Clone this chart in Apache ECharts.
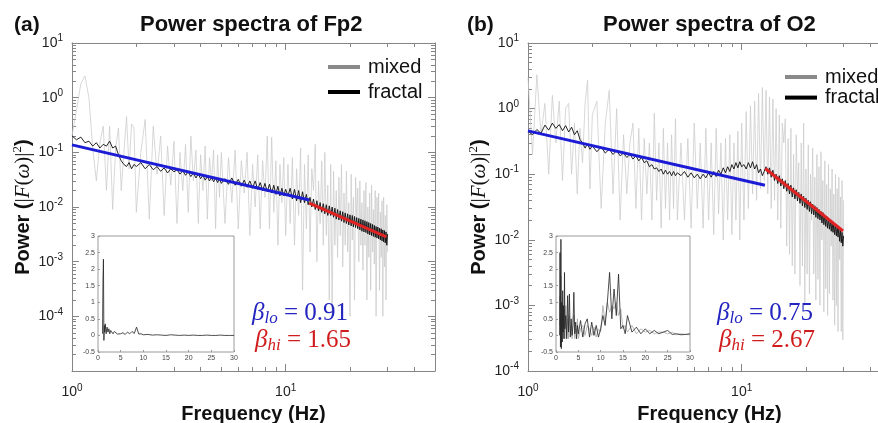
<!DOCTYPE html>
<html><head><meta charset="utf-8">
<script src="https://cdn.jsdelivr.net/npm/echarts@6/dist/echarts.min.js"></script>
<style>html,body{margin:0;padding:0;background:#fff}#c{width:878px;height:423px}</style>
</head><body><div id="c"></div>
<script>
// ---------------- data ----------------
const FREQ = [
 1.00,1.05,1.10,1.15,1.20,1.25,1.30,1.35,1.40,1.45,1.50,1.55,1.60,1.65,1.70,1.75,1.80,1.85,1.90,1.95,2.00,
 2.1,2.2,2.3,2.4,2.5,2.6,2.7,2.8,2.9,3.0,3.1,3.2,3.3,3.4,3.5,3.6,3.7,3.8,3.9,4.0,4.1,4.2,4.3,4.4,4.5,4.6,4.7,4.8,4.9,5.0,
 5.2,5.4,5.6,5.8,6.0,6.2,6.4,6.6,6.8,7.0,7.2,7.4,7.6,7.8,8.0,8.2,8.4,8.6,8.8,9.0,9.2,9.4,9.6,9.8,10.0,
 10.25,10.5,10.75,11,11.25,11.5,11.75,12,12.25,12.5,12.75,13,13.25,13.5,13.75,14,14.25,14.5,14.75,15,
 15.25,15.5,15.75,16,16.25,16.5,16.75,17,17.25,17.5,17.75,18,18.25,18.5,18.75,19,19.25,19.5,19.75,20,
 20.25,20.5,20.75,21,21.25,21.5,21.75,22,22.25,22.5,22.75,23,23.25,23.5,23.75,24,24.25,24.5,24.75,25,
 25.25,25.5,25.75,26,26.25,26.5,26.75,27,27.25,27.5,27.75,28,28.25,28.5,28.75,29,29.25,29.5,29.75,30
];
const FP2_MIXED = [
 0.2,0.6,1.8,2.5,1.0,0.12,0.03,0.15,0.3,0.02,0.3,0.009,0.12,0.28,0.02,0.1,0.45,0.05,0.33,0.28,0.008,
 0.1,0.4,0.006,0.3,0.04,0.2,0.007,0.13,0.025,0.16,0.005,0.1,0.02,0.14,0.008,0.2,0.03,0.11,0.005,0.09,0.02,0.13,0.006,0.08,0.03,0.11,0.004,0.09,0.015,0.1,
 0.005,0.08,0.012,0.11,0.004,0.07,0.018,0.1,0.003,0.06,0.01,0.09,0.004,0.07,0.015,0.2,0.004,0.19,0.008,0.07,0.002,0.06,0.012,0.08,0.003,
 0.06,0.005,0.08,0.002,0.05,0.007,0.12,0.0003,0.06,0.004,0.09,0.0015,0.05,0.02,0.14,0.001,0.03,0.005,0.07,0.002,
 0.1,0.003,0.025,0.0002,0.06,0.0001,0.045,0.002,0.02,0.0012,0.035,0.003,0.06,0.0008,0.018,0.002,0.045,0.0015,0.012,0.0001,
 0.04,0.0025,0.015,0.0002,0.035,0.006,0.022,0.001,0.03,0.002,0.012,0.0007,0.02,0.002,0.028,0.0002,0.01,0.0012,0.018,0.0003,
 0.025,0.0015,0.009,0.0009,0.02,0.0001,0.015,0.004,0.018,0.0003,0.008,0.0012,0.013,0.0001,0.015,0.0008,0.007,0.0002,0.011,0.0015
];
const FP2_FRACTAL = [
 0.2,0.17,0.19,0.15,0.16,0.13,0.15,0.12,0.14,0.13,0.16,0.12,0.13,0.09,0.07,0.06,0.055,0.065,0.05,0.06,0.055,
 0.065,0.05,0.06,0.048,0.055,0.045,0.052,0.042,0.05,0.044,0.048,0.04,0.046,0.038,0.044,0.036,0.042,0.034,0.04,0.033,0.038,0.031,0.036,0.03,0.035,0.029,0.034,0.028,0.033,0.027,
 0.033,0.026,0.034,0.025,0.032,0.024,0.031,0.023,0.03,0.022,0.03,0.021,0.028,0.02,0.027,0.019,0.026,0.018,0.025,0.017,0.024,0.016,0.022,0.016,0.021,
 0.016,0.022,0.014,0.021,0.013,0.02,0.012,0.019,0.012,0.017,0.011,0.015,0.01,0.014,0.009,0.013,0.0085,0.012,0.008,0.0115,
 0.0075,0.011,0.007,0.0105,0.007,0.01,0.0065,0.0095,0.006,0.009,0.0058,0.0085,0.0055,0.0082,0.0052,0.0078,0.005,0.0075,0.0047,0.0072,
 0.0045,0.007,0.0043,0.0067,0.0042,0.0064,0.004,0.0062,0.0038,0.006,0.0036,0.0058,0.0035,0.0056,0.0034,0.0054,0.0032,0.0052,0.0031,0.005,
 0.003,0.0048,0.0029,0.0046,0.0028,0.0044,0.0027,0.0043,0.0026,0.0041,0.0025,0.004,0.0024,0.0038,0.0023,0.0037,0.0022,0.0035,0.002,0.0032
];
const O2_MIXED = [
 3.0,0.2,3.3,0.4,1.2,0.1,1.6,0.3,1.3,0.08,1.0,1.2,0.1,0.6,0.05,0.5,0.15,1.2,2.7,0.06,0.8,
 1.3,0.03,0.6,1.9,0.05,1.0,0.02,0.4,0.05,0.3,0.6,0.03,0.5,0.02,0.35,0.05,0.3,0.02,0.85,0.04,0.3,0.015,0.5,0.03,0.3,0.02,0.4,0.03,0.7,0.02,
 0.3,0.02,0.35,0.015,0.6,0.03,0.3,0.015,0.5,0.02,0.3,0.012,0.5,0.025,0.3,0.01,0.35,0.02,0.4,0.012,0.3,0.02,0.45,0.01,0.6,
 0.02,0.9,0.03,1.1,0.05,1.3,0.04,1.7,0.06,2.1,0.08,1.9,0.05,1.5,0.03,1.4,0.04,1.0,0.02,0.8,
 0.015,0.6,0.3,0.7,0.008,0.35,0.006,0.5,0.004,0.2,0.003,0.4,0.05,0.15,0.002,0.3,0.004,0.6,0.001,0.12,
 0.003,0.28,0.0015,0.1,0.02,0.25,0.003,0.09,0.0012,0.2,0.0025,0.13,0.001,0.22,0.01,0.08,0.0008,0.16,0.0018,0.07,
 0.0007,0.14,0.0015,0.06,0.008,0.12,0.0012,0.05,0.0005,0.1,0.001,0.06,0.0004,0.09,0.005,0.045,0.0004,0.08,0.0003,0.04
];
const O2_FRACTAL = [
 0.45,0.4,0.48,0.42,0.56,0.47,0.6,0.5,0.57,0.46,0.55,0.44,0.52,0.4,0.46,0.34,0.3,0.25,0.29,0.24,0.27,
 0.22,0.26,0.21,0.24,0.2,0.23,0.19,0.21,0.18,0.2,0.17,0.19,0.16,0.18,0.15,0.16,0.13,0.14,0.12,0.125,0.11,0.12,0.1,0.115,0.1,0.11,0.095,0.11,0.095,0.105,
 0.095,0.11,0.09,0.105,0.088,0.1,0.085,0.1,0.088,0.105,0.09,0.11,0.092,0.115,0.1,0.125,0.105,0.13,0.11,0.14,0.12,0.15,0.125,0.155,0.13,
 0.14,0.12,0.15,0.125,0.155,0.12,0.14,0.105,0.12,0.095,0.11,0.13,0.1,0.125,0.09,0.115,0.08,0.1,0.072,0.095,
 0.066,0.085,0.06,0.08,0.055,0.072,0.05,0.068,0.045,0.062,0.042,0.058,0.039,0.053,0.036,0.05,0.033,0.046,0.031,0.043,
 0.029,0.04,0.027,0.038,0.025,0.035,0.024,0.033,0.022,0.031,0.021,0.029,0.02,0.027,0.018,0.026,0.017,0.024,0.016,0.023,
 0.015,0.021,0.0145,0.02,0.0135,0.019,0.013,0.018,0.012,0.017,0.0115,0.016,0.011,0.015,0.0095,0.014,0.009,0.013,0.008,0.0115
];
// power-law fits [freq, power] end points
const FP2_FIT_LO = [[1, 0.137], [12.9, 0.0134]];
const FP2_FIT_HI = [[12.9, 0.0118], [29.6, 0.00283]];
const O2_FIT_LO = [[1, 0.458], [12.85, 0.068]];
const O2_FIT_HI = [[12.9, 0.122], [29.8, 0.0136]];
const BETA_LO = ['0.91', '0.75'];
const BETA_HI = ['1.65', '2.67'];
const TITLES = ['Power spectra of Fp2', 'Power spectra of O2'];
const PANEL_TAGS = ['(a)', '(b)'];
const LEGEND_NAMES = ['mixed', 'fractal'];

// insets (linear scale oscillatory component)
const INSET_A_FREQ = [1.0,1.1,1.2,1.3,1.4,1.5,1.6,1.8,2.0,2.2,2.4,2.6,2.8,3.0,3.3,3.6,4.0,4.3,4.6,5.0,5.5,6.0,6.5,7.0,7.5,8.0,8.5,9.0,9.5,10,11,12,13,14,15,16,17,18,19,20,21,22,23,24,25,26,27,28,29,30];
const INSET_A_OSC = [0.05,1.7,2.3,-0.15,0.3,0.1,0.35,0.05,0.25,0.1,0.2,0.05,0.15,0.1,0.05,0.12,0.08,0.04,0.1,0.05,0.08,0.03,0.1,0.05,0.12,0.06,0.25,0.04,0.05,0.02,0.03,0.01,0.02,0.01,0.0,0.02,0.01,0.0,0.01,0.0,0.01,0.0,0.0,0.01,0.0,0.0,0.01,0.0,0.0,0.0];
const INSET_B_FREQ = [0.8,0.9,1.0,1.1,1.2,1.3,1.4,1.5,1.6,1.7,1.8,1.9,2.0,2.2,2.4,2.6,2.8,3.0,3.2,3.4,3.6,3.8,4.0,4.2,4.4,4.6,4.8,5.0,5.5,6.0,6.5,7.0,7.5,8.0,8.5,9.0,9.5,10.0,10.5,11.0,11.5,12.0,12.5,13.0,13.5,14.0,14.5,15.0,15.5,16.0,17,18,19,20,21,22,23,24,25,26,27,28,29,30];
const INSET_B_OSC = [0.0,2.5,-0.35,2.9,-0.4,1.0,-0.2,1.35,0.1,0.9,-0.1,1.9,0.2,0.6,-0.1,1.2,0.1,1.25,-0.05,0.5,0.0,0.3,1.3,0.05,0.4,-0.1,0.3,0.05,0.45,-0.05,0.35,0.5,-0.05,0.4,0.0,0.3,-0.05,0.2,0.6,0.3,1.0,1.9,0.5,1.4,0.6,1.85,0.2,0.3,0.05,0.6,0.1,0.25,0.05,0.2,0.05,0.15,0.05,0.1,0.15,0.03,0.05,0.02,0.03,0.05];
const INSET_B_OSC_GRAY = [0.3,1.2,0.1,1.8,-0.2,0.7,0.1,0.9,-0.1,0.6,0.2,0.8,-0.1,0.9,0.0,0.5,-0.1,0.6,0.1,0.3,-0.1,0.5,0.6,-0.1,0.2,0.1,0.5,-0.1,0.2,0.3,0.0,0.3,0.2,0.0,0.25,-0.05,0.2,0.1,0.9,0.4,1.0,0.7,0.9,0.8,1.0,0.6,0.8,0.2,0.3,0.1,0.3,0.05,0.2,0.1,0.15,0.05,0.1,0.1,0.05,0.1,0.02,0.05,0.03,0.02];

// axis ticks
const X_MAJOR = [1, 10];
const X_MINOR = [2,3,4,5,6,7,8,9,20,30,40];
const Y_LABELS_A = [1e-4,1e-3,1e-2,1e-1,1,10];
const Y_TICKS_A = [1e-5,1e-4,1e-3,1e-2,1e-1,1,10];
const Y_LABELS_B = [1e-4,1e-3,1e-2,1e-1,1,10];
const Y_TICKS_B = [1e-4,1e-3,1e-2,1e-1,1,10];

// ---------------- build ----------------
const SANS = "'Liberation Sans', Arial, sans-serif";
const SERIF = "'Liberation Serif', 'DejaVu Serif', serif";
const FRAME = '#858585';
const BLUE = '#1c1cd6', RED = '#e02222';
const TXT_BLUE = '#2424c0', TXT_RED = '#d01c1c';

function zip(xs, ys){ return xs.map((x,i)=>[x, ys[i]]); }
function minorList(majors){
  const out=[]; for (let i=0;i<majors.length-1;i++){ for(let k=2;k<=9;k++) out.push(majors[i]*k); } return out;
}
const supRich = {
  b:{fontSize:14, fontFamily:SANS, color:'#222', lineHeight:19},
  s:{fontSize:10, fontFamily:SANS, color:'#222', lineHeight:10, verticalAlign:'top'}
};
function supFmt(v){ const e=Math.round(Math.log10(v)); return '{b|10}{s|'+e+'}'; }

const grids=[], xAxes=[], yAxes=[], series=[], titles=[], legends=[];

function addMain(p){
  const gi = grids.length;
  grids.push({left:p.left, top:p.top, width:p.width, height:p.height, show:false, containLabel:false, outerBoundsMode:'none'});
  const xc = {gridIndex:gi, type:'log', logBase:10, min:1, max:50, splitLine:{show:false}};
  const yc = {gridIndex:gi, type:'log', logBase:10, min:p.ymin, max:10, splitLine:{show:false}};
  const xi = xAxes.length, yi = yAxes.length;
  xAxes.push(Object.assign({}, xc, {position:'bottom',
    axisLine:{show:true,onZero:false,lineStyle:{color:FRAME,width:1}},
    axisTick:{show:true,inside:true,length:7,customValues:X_MAJOR,lineStyle:{color:FRAME}},
    axisLabel:{show:true,customValues:X_MAJOR,formatter:supFmt,rich:supRich,margin:12},
    name:'Frequency (Hz)', nameLocation:'middle', nameGap:26,
    nameTextStyle:{fontFamily:SANS,fontWeight:'bold',fontSize:20,color:'#111'}}));
  xAxes.push(Object.assign({}, xc, {position:'bottom', axisLine:{show:false},
    axisTick:{show:true,inside:true,length:4,customValues:X_MINOR,lineStyle:{color:FRAME}}, axisLabel:{show:false}}));
  xAxes.push(Object.assign({}, xc, {position:'top', axisLine:{show:true,onZero:false,lineStyle:{color:FRAME}},
    axisTick:{show:true,inside:true,length:7,customValues:X_MAJOR,lineStyle:{color:FRAME}}, axisLabel:{show:false}}));
  xAxes.push(Object.assign({}, xc, {position:'top', axisLine:{show:false},
    axisTick:{show:true,inside:true,length:4,customValues:X_MINOR,lineStyle:{color:FRAME}}, axisLabel:{show:false}}));
  yAxes.push(Object.assign({}, yc, {position:'left',
    axisLine:{show:true,onZero:false,lineStyle:{color:FRAME}},
    axisTick:{show:true,inside:true,length:7,customValues:p.yTicks,lineStyle:{color:FRAME}},
    axisLabel:{show:true,customValues:p.yLabels,formatter:supFmt,rich:supRich,margin:9},
    name:'{b|Power (}{m||}{mi|F}{m|(}{mi|ω}{m|)|}{s|2}{b|)}', nameLocation:'middle', nameGap:37, nameRotate:90,
    nameTextStyle:{rich:{
      b:{fontFamily:SANS,fontWeight:'bold',fontSize:20,color:'#111',lineHeight:24},
      m:{fontFamily:SERIF,fontSize:21,color:'#111',lineHeight:24},
      mi:{fontFamily:SERIF,fontStyle:'italic',fontSize:21,color:'#111',lineHeight:24},
      s:{fontFamily:SERIF,fontSize:13,color:'#111',lineHeight:13,verticalAlign:'top'}
    }}}));
  yAxes.push(Object.assign({}, yc, {position:'left', axisLine:{show:false},
    axisTick:{show:true,inside:true,length:4,customValues:minorList(p.yTicks),lineStyle:{color:FRAME}}, axisLabel:{show:false}}));
  yAxes.push(Object.assign({}, yc, {position:'right', axisLine:{show:true,onZero:false,lineStyle:{color:FRAME}},
    axisTick:{show:true,inside:true,length:7,customValues:p.yTicks,lineStyle:{color:FRAME}}, axisLabel:{show:false}}));
  yAxes.push(Object.assign({}, yc, {position:'right', axisLine:{show:false},
    axisTick:{show:true,inside:true,length:4,customValues:minorList(p.yTicks),lineStyle:{color:FRAME}}, axisLabel:{show:false}}));

  const base = {type:'line', xAxisIndex:xi, yAxisIndex:yi, showSymbol:false, symbol:'none', silent:true, animation:false};
  series.push(Object.assign({}, base, {name:'mixed', data:zip(FREQ,p.mixed), lineStyle:{color:'#cbcbcb',width:0.75}, itemStyle:{color:'#cbcbcb'}, z:2}));
  series.push(Object.assign({}, base, {name:'fractal', data:zip(FREQ,p.fractal), lineStyle:{color:'#0c0c0c',width:0.9}, itemStyle:{color:'#0c0c0c'}, z:3}));
  series.push(Object.assign({}, base, {name:'fit lo', data:p.lo, lineStyle:{color:BLUE,width:3}, itemStyle:{color:BLUE}, z:4}));
  series.push(Object.assign({}, base, {name:'fit hi', data:p.hi, lineStyle:{color:RED,width:3}, itemStyle:{color:RED}, z:4}));
}

function addInset(p){
  const gi = grids.length;
  grids.push({left:p.left, top:p.top, width:p.width, height:p.height, show:true, backgroundColor:'#fff', borderColor:'#9a9a9a', borderWidth:1, containLabel:false, outerBoundsMode:'none', z:5});
  const xi = xAxes.length, yi = yAxes.length;
  xAxes.push({gridIndex:gi, type:'value', min:0, max:30, interval:5, position:'bottom', z:5,
    axisLine:{show:false,onZero:false}, axisTick:{show:true,inside:true,length:2,lineStyle:{color:'#999'}},
    axisLabel:{fontSize:7,color:'#444',margin:3,fontFamily:SANS}, splitLine:{show:false}});
  yAxes.push({gridIndex:gi, type:'value', min:-0.5, max:3, interval:0.5, position:'left', z:5,
    axisLine:{show:false,onZero:false}, axisTick:{show:true,inside:true,length:2,lineStyle:{color:'#999'}},
    axisLabel:{fontSize:7,color:'#444',margin:3,fontFamily:SANS}, splitLine:{show:false}});
  const base = {type:'line', xAxisIndex:xi, yAxisIndex:yi, showSymbol:false, symbol:'none', silent:true, animation:false, z:6};
  if (p.gray) series.push(Object.assign({}, base, {name:'inset mixed', data:zip(p.freq,p.gray), lineStyle:{color:'#a8a8a8',width:0.8}}));
  series.push(Object.assign({}, base, {name:'inset fractal', data:zip(p.freq,p.black), lineStyle:{color:'#222',width:0.8}}));
}

addMain({left:72, top:43, width:363, height:328, ymin:1e-5, yTicks:Y_TICKS_A, yLabels:Y_LABELS_A,
  mixed:FP2_MIXED, fractal:FP2_FRACTAL, lo:FP2_FIT_LO, hi:FP2_FIT_HI});
addMain({left:528, top:43, width:363, height:328, ymin:1e-4, yTicks:Y_TICKS_B, yLabels:Y_LABELS_B,
  mixed:O2_MIXED, fractal:O2_FRACTAL, lo:O2_FIT_LO, hi:O2_FIT_HI});
addInset({left:98, top:236, width:136, height:116, freq:INSET_A_FREQ, black:INSET_A_OSC});
addInset({left:556, top:236, width:134, height:116, freq:INSET_B_FREQ, black:INSET_B_OSC, gray:INSET_B_OSC_GRAY});

// titles / tags / beta annotations
const TITLE_POS = [{tag:14, title:140, beta:[252,255]}, {tag:467, title:603, beta:[717,719]}];
const betaRich = (col)=>({
  g:{fontFamily:SERIF,fontStyle:'italic',fontWeight:'normal',fontSize:25,color:col,lineHeight:28},
  s:{fontFamily:SERIF,fontStyle:'italic',fontWeight:'normal',fontSize:17,color:col,lineHeight:17,verticalAlign:'bottom'},
  e:{fontFamily:SERIF,fontStyle:'normal',fontWeight:'normal',fontSize:25,color:col,lineHeight:28}
});
[0,1].forEach(i=>{
  const P = TITLE_POS[i];
  titles.push({text:PANEL_TAGS[i], left:P.tag, top:13, padding:0, textStyle:{fontFamily:SANS,fontWeight:'bold',fontSize:21,color:'#111',lineHeight:24}});
  titles.push({text:TITLES[i], left:P.title, top:12, padding:0, textStyle:{fontFamily:SANS,fontWeight:'bold',fontSize:22,color:'#111',lineHeight:26}});
  titles.push({text:'{g|β}{s|lo}{e| = '+BETA_LO[i]+'}', left:P.beta[0], top:299, padding:0, textStyle:{fontWeight:'normal',rich:betaRich(TXT_BLUE)}});
  titles.push({text:'{g|β}{s|hi}{e| = '+BETA_HI[i]+'}', left:P.beta[1], top:326, padding:0, textStyle:{fontWeight:'normal',rich:betaRich(TXT_RED)}});
});

const legendData = [{name:LEGEND_NAMES[0], itemStyle:{color:'#8a8a8a'}}, {name:LEGEND_NAMES[1], itemStyle:{color:'#000'}}];
legends.push({left:328, top:57, orient:'vertical', padding:0, itemWidth:32, itemHeight:4, itemGap:5, icon:'rect', selectedMode:false,
  data:legendData, textStyle:{fontFamily:SANS,fontSize:20,color:'#111',padding:[0,0,0,3]}});
legends.push({left:785, top:67, orient:'vertical', padding:0, itemWidth:32, itemHeight:4, itemGap:0.6, icon:'rect', selectedMode:false,
  data:legendData, textStyle:{fontFamily:SANS,fontSize:20,color:'#111',padding:[0,0,0,3]}});

const chart = echarts.init(document.getElementById('c'), null, {renderer:'canvas'});
chart.setOption({
  animation:false,
  backgroundColor:'#fff',
  title:titles, legend:legends, grid:grids, xAxis:xAxes, yAxis:yAxes, series:series
});
</script></body></html>
